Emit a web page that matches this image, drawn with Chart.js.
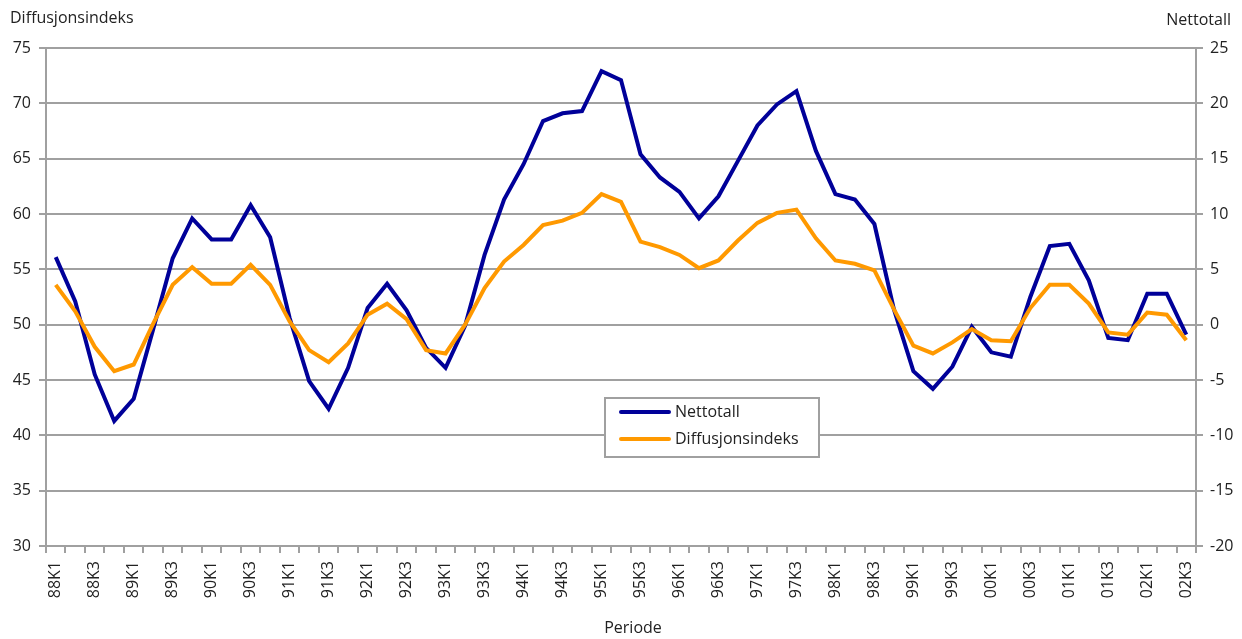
<!DOCTYPE html>
<html lang="no">
<head>
    <meta charset="UTF-8">
    <title>Nettotall og diffusjonsindeks</title>
    <script src="https://cdn.jsdelivr.net/npm/chart.js@4"></script>
    <style>
        html, body {
            margin: 0;
            padding: 0;
            background: #fff;
        }
        canvas {
            display: block;
        }
    </style>
</head>
<body>
    <canvas id="chart" width="1242" height="639"></canvas>

    <script>
        // Kvartaler
        const periods = [
            '88K1','88K2','88K3','88K4','89K1','89K2','89K3','89K4',
            '90K1','90K2','90K3','90K4','91K1','91K2','91K3','91K4',
            '92K1','92K2','92K3','92K4','93K1','93K2','93K3','93K4',
            '94K1','94K2','94K3','94K4','95K1','95K2','95K3','95K4',
            '96K1','96K2','96K3','96K4','97K1','97K2','97K3','97K4',
            '98K1','98K2','98K3','98K4','99K1','99K2','99K3','99K4',
            '00K1','00K2','00K3','00K4','01K1','01K2','01K3','01K4',
            '02K1','02K2','02K3'
        ];

        // Nettotall (høyre akse)
        const nettotall = [
            6.1, 2.1, -4.5, -8.7, -6.7, -0.4, 6.0, 9.6,
            7.7, 7.7, 10.8, 7.9, 0.6, -5.1, -7.6, -3.9,
            1.5, 3.7, 1.3, -2.1, -3.9, -0.1, 6.3, 11.3,
            14.5, 18.4, 19.1, 19.3, 22.9, 22.1, 15.4, 13.3,
            12.0, 9.6, 11.6, 14.8, 18.0, 19.9, 21.1, 15.7,
            11.8, 11.3, 9.1, 1.4, -4.2, -5.8, -3.8, -0.2,
            -2.5, -2.9, 2.5, 7.1, 7.3, 4.0, -1.2, -1.4,
            2.8, 2.8, -0.9
        ];

        // Diffusjonsindeks (venstre akse)
        const diffusjonsindeks = [
            53.6, 51.2, 48.0, 45.8, 46.4, 50.1, 53.6, 55.2,
            53.7, 53.7, 55.4, 53.6, 50.3, 47.7, 46.6, 48.3,
            50.9, 51.9, 50.5, 47.7, 47.4, 50.0, 53.3, 55.7,
            57.2, 59.0, 59.4, 60.1, 61.8, 61.1, 57.5, 57.0,
            56.3, 55.1, 55.8, 57.6, 59.2, 60.1, 60.4, 57.8,
            55.8, 55.5, 54.9, 51.4, 48.1, 47.4, 48.4, 49.6,
            48.6, 48.5, 51.5, 53.6, 53.6, 51.9, 49.3, 49.1,
            51.1, 50.9, 48.6
        ];

        const leftTitle = 'Diffusjonsindeks';
        const rightTitle = 'Nettotall';
        const xTitle = 'Periode';

        const gridGray = '#a0a0a0';
        const textColor = '#222';
        const fontFamily = '"Open Sans", "Noto Sans", sans-serif';

        // Titler og forklaring tegnet rett på lerretet
        const extraText = {
            id: 'extraText',
            afterDraw(chart) {
                const ctx = chart.ctx;
                ctx.save();
                ctx.font = '16px ' + fontFamily;
                ctx.fillStyle = textColor;
                ctx.textBaseline = 'middle';
                ctx.textAlign = 'left';
                ctx.fillText(leftTitle, 10, 18);
                ctx.textAlign = 'right';
                ctx.fillText(rightTitle, 1231, 20);
                ctx.textAlign = 'center';
                ctx.fillText(xTitle, 633, 628);

                // legend box
                const bx = 605, by = 398, bw = 214, bh = 59;
                ctx.fillStyle = '#fff';
                ctx.fillRect(bx, by, bw, bh);
                ctx.strokeStyle = gridGray;
                ctx.lineWidth = 2;
                ctx.strokeRect(bx, by, bw, bh);

                const items = [
                    { text: 'Nettotall', color: chart.data.datasets[0].borderColor, y: 412 },
                    { text: 'Diffusjonsindeks', color: chart.data.datasets[1].borderColor, y: 439 }
                ];
                items.forEach(it => {
                    ctx.strokeStyle = it.color;
                    ctx.lineWidth = 4;
                    ctx.lineCap = 'round';
                    ctx.beginPath();
                    ctx.moveTo(621, it.y);
                    ctx.lineTo(669, it.y);
                    ctx.stroke();
                    ctx.fillStyle = textColor;
                    ctx.textAlign = 'left';
                    ctx.fillText(it.text, 675, it.y);
                });
                ctx.restore();
            }
        };

        const ctx = document.getElementById('chart').getContext('2d');
        const chart = new Chart(ctx, {
            type: 'line',
            data: {
                labels: periods,
                datasets: [{
                    label: 'Nettotall',
                    data: nettotall,
                    yAxisID: 'y1',
                    borderColor: '#000099',
                    borderWidth: 4,
                    borderJoinStyle: 'miter',
                    pointRadius: 0,
                    tension: 0,
                    order: 1
                }, {
                    label: 'Diffusjonsindeks',
                    data: diffusjonsindeks,
                    yAxisID: 'y',
                    borderColor: '#ff9900',
                    borderWidth: 4,
                    borderJoinStyle: 'miter',
                    pointRadius: 0,
                    tension: 0,
                    order: 0
                }]
            },
            options: {
                responsive: false,
                animation: false,
                devicePixelRatio: 1,
                layout: {
                    padding: { top: 48, left: 0, right: 0, bottom: 0 }
                },
                plugins: {
                    legend: { display: false },
                    tooltip: { enabled: false }
                },
                scales: {
                    x: {
                        type: 'category',
                        offset: true,
                        afterFit(scale) { scale.height = 93; },
                        grid: {
                            display: true,
                            offset: true,
                            drawOnChartArea: false,
                            drawTicks: true,
                            tickLength: 7,
                            color: gridGray,
                            lineWidth: 2
                        },
                        border: { display: true, color: gridGray, width: 2 },
                        ticks: {
                            autoSkip: false,
                            minRotation: 90,
                            maxRotation: 90,
                            padding: 8,
                            color: textColor,
                            font: { family: fontFamily, size: 16 },
                            callback(value, index) {
                                return index % 2 === 0 ? this.getLabelForValue(value) : '';
                            }
                        }
                    },
                    y: {
                        position: 'left',
                        min: 30,
                        max: 75,
                        afterFit(scale) { scale.width = 46; },
                        grid: {
                            color: gridGray,
                            lineWidth: 2,
                            drawTicks: true,
                            tickLength: 7
                        },
                        border: { display: true, color: gridGray, width: 2 },
                        ticks: {
                            stepSize: 5,
                            padding: 8,
                            color: textColor,
                            font: { family: fontFamily, size: 16 }
                        }
                    },
                    y1: {
                        position: 'right',
                        min: -20,
                        max: 25,
                        afterFit(scale) { scale.width = 46; },
                        grid: {
                            drawOnChartArea: false,
                            drawTicks: true,
                            tickLength: 7,
                            color: gridGray,
                            lineWidth: 2
                        },
                        border: { display: true, color: gridGray, width: 2 },
                        ticks: {
                            stepSize: 5,
                            padding: 7,
                            color: textColor,
                            font: { family: fontFamily, size: 16 }
                        }
                    }
                }
            },
            plugins: [extraText]
        });
    </script>
</body>
</html>
